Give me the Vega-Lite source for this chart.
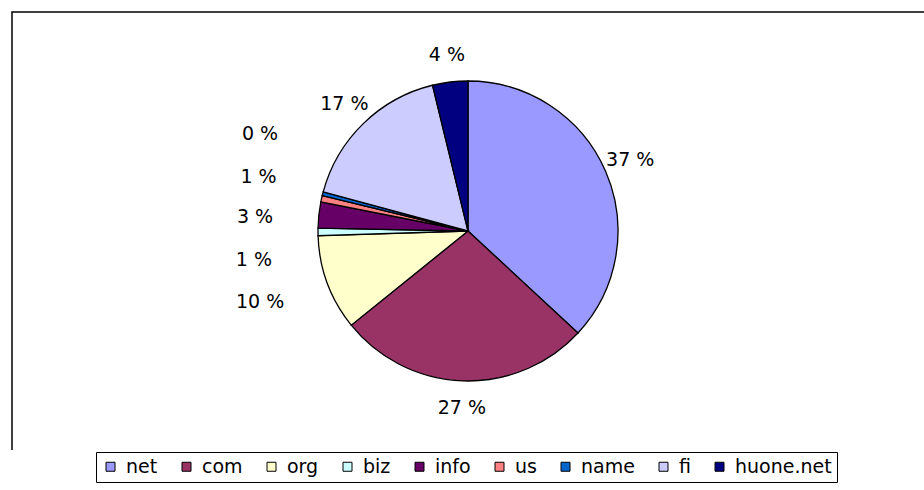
{
  "$schema": "https://vega.github.io/schema/vega-lite/v6.json",
  "width": 912,
  "height": 438,
  "autosize": {"type": "none"},
  "padding": {"left": 12, "top": 12, "right": 0, "bottom": 40},
  "background": "white",
  "config": {
    "font": "DejaVu Sans",
    "view": {"stroke": "#000", "strokeWidth": 1.5, "strokeDash": [912, 1350, 438]}
  },
  "data": {
    "values": [
      {"name": "net", "value": 36.9, "label": "37 %", "i": 1},
      {"name": "com", "value": 27.3, "label": "27 %", "i": 2},
      {"name": "org", "value": 10.3, "label": "10 %", "i": 3},
      {"name": "biz", "value": 0.8, "label": "1 %", "i": 4},
      {"name": "info", "value": 2.8, "label": "3 %", "i": 5},
      {"name": "us", "value": 0.7, "label": "1 %", "i": 6},
      {"name": "name", "value": 0.4, "label": "0 %", "i": 7},
      {"name": "fi", "value": 17.0, "label": "17 %", "i": 8},
      {"name": "huone.net", "value": 3.8, "label": "4 %", "i": 9}
    ]
  },
  "layer": [
    {
      "mark": {"type": "rule", "opacity": 0},
      "encoding": {
        "x": {"field": "i", "type": "quantitative", "axis": null},
        "y": {"field": "value", "type": "quantitative", "axis": null}
      }
    },
    {
      "mark": {"type": "arc", "outerRadius": 150, "stroke": "#000", "strokeWidth": 1.3},
      "encoding": {
        "theta": {"field": "value", "type": "quantitative", "stack": true},
        "order": {"field": "i", "type": "quantitative"},
        "color": {
          "field": "name",
          "type": "nominal",
          "sort": null,
          "scale": {
            "domain": ["net", "com", "org", "biz", "info", "us", "name", "fi", "huone.net"],
            "range": ["#9999FF", "#993366", "#FFFFCC", "#CCFFFF", "#660066", "#FF8080", "#0066CC", "#CCCCFF", "#000080"]
          },
          "legend": {
            "title": null,
            "orient": "none",
            "legendX": 84,
            "legendY": 440,
            "direction": "horizontal",
            "symbolType": "square",
            "symbolSize": 81,
            "symbolStrokeColor": "#000",
            "symbolStrokeWidth": 1,
            "symbolOpacity": 1,
            "labelFont": "DejaVu Sans",
            "labelFontSize": 19,
            "labelColor": "#000",
            "labelOffset": 6,
            "columnPadding": 19,
            "strokeColor": "#000",
            "padding": 5
          }
        }
      }
    },
    {
      "mark": {"type": "text", "radius": 177, "fontSize": 19, "align": "center", "baseline": "middle"},
      "encoding": {
        "theta": {"field": "value", "type": "quantitative", "stack": true},
        "order": {"field": "i", "type": "quantitative"},
        "detail": {"field": "name", "type": "nominal"},
        "color": {"value": "#000"},
        "text": {"condition": {"test": "datum.name == 'net' || datum.name == 'com' || datum.name == 'fi' || datum.name == 'huone.net'", "field": "label"}, "value": ""}
      }
    },
    {
      "mark": {"type": "text", "radius": 196, "fontSize": 19, "align": "right", "baseline": "middle", "dy": 3},
      "encoding": {
        "theta": {"field": "value", "type": "quantitative", "stack": true},
        "order": {"field": "i", "type": "quantitative"},
        "detail": {"field": "name", "type": "nominal"},
        "color": {"value": "#000"},
        "text": {"condition": {"test": "datum.name == 'org'", "field": "label"}, "value": ""}
      }
    },
    {
      "mark": {"type": "text", "radius": 196, "fontSize": 19, "align": "right", "baseline": "middle", "dy": 28},
      "encoding": {
        "theta": {"field": "value", "type": "quantitative", "stack": true},
        "order": {"field": "i", "type": "quantitative"},
        "detail": {"field": "name", "type": "nominal"},
        "color": {"value": "#000"},
        "text": {"condition": {"test": "datum.name == 'biz'", "field": "label"}, "value": ""}
      }
    },
    {
      "mark": {"type": "text", "radius": 196, "fontSize": 19, "align": "right", "baseline": "middle", "dy": 7},
      "encoding": {
        "theta": {"field": "value", "type": "quantitative", "stack": true},
        "order": {"field": "i", "type": "quantitative"},
        "detail": {"field": "name", "type": "nominal"},
        "color": {"value": "#000"},
        "text": {"condition": {"test": "datum.name == 'info'", "field": "label"}, "value": ""}
      }
    },
    {
      "mark": {"type": "text", "radius": 196, "fontSize": 19, "align": "right", "baseline": "middle", "dy": -12},
      "encoding": {
        "theta": {"field": "value", "type": "quantitative", "stack": true},
        "order": {"field": "i", "type": "quantitative"},
        "detail": {"field": "name", "type": "nominal"},
        "color": {"value": "#000"},
        "text": {"condition": {"test": "datum.name == 'us'", "field": "label"}, "value": ""}
      }
    },
    {
      "mark": {"type": "text", "radius": 196, "fontSize": 19, "align": "right", "baseline": "middle", "dy": -48},
      "encoding": {
        "theta": {"field": "value", "type": "quantitative", "stack": true},
        "order": {"field": "i", "type": "quantitative"},
        "detail": {"field": "name", "type": "nominal"},
        "color": {"value": "#000"},
        "text": {"condition": {"test": "datum.name == 'name'", "field": "label"}, "value": ""}
      }
    }
  ]
}
